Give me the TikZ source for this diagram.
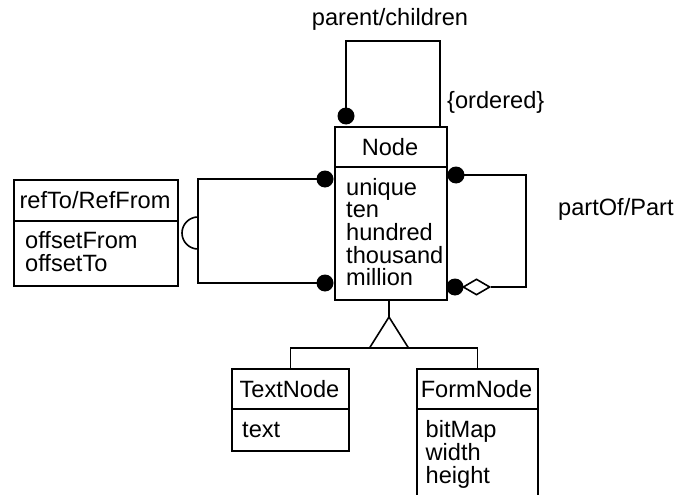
\documentclass[tikz,border=0pt]{standalone}
\usepackage{fontspec}
\setmainfont{Liberation Sans}
\usetikzlibrary{calc,shapes.geometric}
\begin{document}
\begin{tikzpicture}[x=1pt,y=-1pt,
  box/.style={draw, line width=2pt, inner sep=0pt, anchor=north west},
  lbl/.style={font=\fontsize{23.6}{22.7}\selectfont, inner sep=0pt, text=black},
  nm/.style={lbl, anchor=base},
  att/.style={lbl, anchor=base west},
  conn/.style={line width=1.6pt},
  dot/.style={circle, fill=black, minimum size=17pt, inner sep=0pt},
  agg/.style={diamond, draw, fill=white, line width=1.6pt, aspect=1.7, minimum width=27pt, minimum height=16pt, inner sep=0pt}]
\useasboundingbox (0,0) rectangle (678,495);
\clip (0,0) rectangle (678,495);
% ---- Node class
\node[box, minimum width=112pt, minimum height=40pt] (nodehead) at (334,126) {};
\node[box, minimum width=112pt, minimum height=133pt] (nodeattr) at (334,166) {};
\node[nm] (nodename) at (390,155) {Node};
\node[att] (a-unique) at (346,195) {unique};
\node[att] (a-ten) at (346,217.7) {ten};
\node[att] (a-hundred) at (346,240.4) {hundred};
\node[att] (a-thousand) at (346,263.1) {thousand};
\node[att] (a-million) at (346,285.8) {million};
% ---- refTo/RefFrom class
\node[box, minimum width=164pt, minimum height=41pt] (refhead) at (13,179) {};
\node[box, minimum width=164pt, minimum height=65pt] (refattr) at (13,220) {};
\node[nm] (refname) at (95,208) {refTo/RefFrom};
\node[att] (a-offsetFrom) at (25,248) {offsetFrom};
\node[att] (a-offsetTo) at (25,271) {offsetTo};
% ---- TextNode class
\node[box, minimum width=117pt, minimum height=40pt] (texthead) at (231,368) {};
\node[box, minimum width=117pt, minimum height=42pt] (textattr) at (231,408) {};
\node[nm] (textname) at (289.5,397) {TextNode};
\node[att] (a-text) at (242,437) {text};
% ---- FormNode class
\node[box, minimum width=121pt, minimum height=40pt] (formhead) at (416,368) {};
\node[box, minimum width=121pt, minimum height=120pt] (formattr) at (416,408) {};
\node[nm] (formname) at (476.5,397) {FormNode};
\node[att] (a-bitMap) at (425.5,437) {bitMap};
\node[att] (a-width) at (425.5,460) {width};
\node[att] (a-height) at (425.5,483) {height};
% ---- parent/children loop
\node[dot] (dtop) at (346,116) {};
\draw[conn] (dtop.center) -- ++(0,-75) -| ($(nodehead.north east)+(-8,0)$);
\node[lbl, anchor=base] (lparent) at (390,26) {parent/children};
\node[lbl, anchor=base west] (lordered) at (447,108) {\{ordered\}};
% ---- refTo/RefFrom association
\node[dot] (dl1) at (325,179) {};
\node[dot] (dl2) at (325,283) {};
\draw[conn] (dl1.center) -- ++(-127,0) |- (dl2.center);
\coordinate (arcstart) at (198,217);
\draw[conn] (arcstart) arc[start angle=90, end angle=270, radius=16pt];
% ---- partOf/Part aggregation
\node[dot] (dr1) at (456,175) {};
\node[agg] (dia) at (476.5,287) {};
\node[dot] (dr2) at (455,287) {};
\draw[conn] (dr1.center) -- ++(70,0) |- (dia.east);
\node[lbl, anchor=base west] (lpart) at (558,215) {partOf/Part};
% ---- generalization
\coordinate (apex) at (389,317);
\draw[conn] (nodeattr.south -| apex) -- (apex);
\draw[conn] (apex) -- ++(-19.5,31) -- ++(39,0) -- cycle;
\draw[conn] (texthead.north) -- ++(0,-20) -- ($(formhead.north)+(0,-20)$) -- (formhead.north);
\end{tikzpicture}
\end{document}
